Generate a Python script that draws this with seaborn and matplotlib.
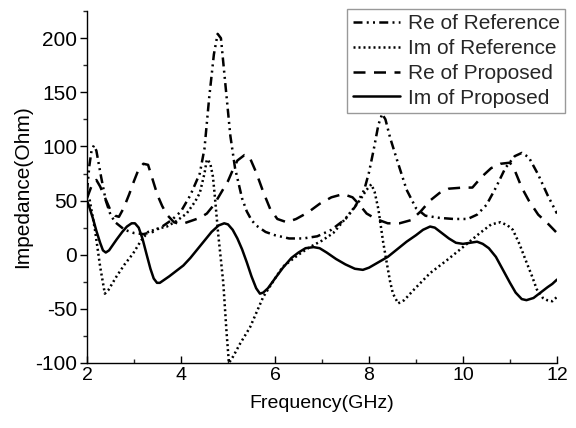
import matplotlib
matplotlib.use("Agg")
import matplotlib.pyplot as plt
from matplotlib.ticker import MultipleLocator
import seaborn as sns
import pandas as pd

# Series names (legend order)
series_names = ["Re of Reference", "Im of Reference", "Re of Proposed", "Im of Proposed"]

# Re of Reference
re_ref_freq = [2.0, 2.05, 2.1, 2.15, 2.2, 2.3, 2.4, 2.5, 2.6, 2.8, 3.0, 3.2, 3.4, 3.6, 3.8,
               4.0, 4.2, 4.4, 4.5, 4.6, 4.7, 4.78, 4.85, 4.95, 5.05, 5.15, 5.3, 5.4, 5.5,
               5.6, 5.8, 6.0, 6.3, 6.6, 6.9, 7.2, 7.5, 7.7, 7.9, 8.0, 8.1, 8.2, 8.28, 8.35,
               8.45, 8.6, 8.8, 9.0, 9.2, 9.5, 9.8, 10.1, 10.3, 10.5, 10.7, 10.9, 11.1, 11.25,
               11.4, 11.6, 11.8, 12.0]
re_ref_val = [58, 82, 97, 101, 96, 72, 50, 37, 30, 23, 20, 19, 21, 26, 32,
              40, 55, 75, 98, 145, 185, 204, 200, 155, 110, 80, 52, 40, 32,
              27, 21, 18, 15, 15, 17, 23, 33, 44, 60, 76, 97, 120, 130, 125,
              108, 87, 60, 43, 36, 34, 33, 33, 37, 46, 62, 80, 91, 94,
              90, 74, 55, 38]

# Im of Reference
im_ref_freq = [2.0, 2.06, 2.17, 2.28, 2.38, 2.45, 2.63, 2.8, 2.98, 3.15, 3.3, 3.5, 3.7, 3.9,
               4.12, 4.3, 4.4, 4.5, 4.55, 4.62, 4.68, 4.72, 4.79, 4.9, 4.97, 5.02, 5.11,
               5.26, 5.47, 5.75, 6.0, 6.17, 6.5, 6.74, 7.0, 7.24, 7.53, 7.8, 7.95, 8.05,
               8.12, 8.2, 8.3, 8.38, 8.45, 8.51, 8.62, 8.75, 8.94, 9.3, 9.66, 10.0, 10.36,
               10.6, 10.8, 10.95, 11.06, 11.2, 11.36, 11.47, 11.57, 11.7, 11.79, 11.9, 12.0]
im_ref_val = [55, 50, 23, -11, -36, -33, -20, -9, 1, 13, 21, 24, 26, 31,
              38, 49, 57, 75, 88, 85, 72, 54, 20, -26, -72, -100, -94,
              -82, -67, -39, -22, -11, 0, 7, 13, 20, 35, 50, 60, 65,
              58, 42, 12, -8, -25, -36, -45, -42, -33, -17, -5, 7, 20,
              28, 30, 27, 23, 10, -8, -20, -32, -40, -42, -43, -39]

# Re of Proposed
re_prop_freq = [2.0, 2.05, 2.12, 2.2, 2.28, 2.38, 2.5, 2.6, 2.68, 2.78, 2.9, 3.0, 3.1, 3.2,
                3.3, 3.4, 3.5, 3.6, 3.7, 3.85, 4.0, 4.2, 4.4, 4.55, 4.7, 4.85, 5.0, 5.1,
                5.2, 5.35, 5.45, 5.6, 5.75, 5.9, 6.05, 6.25, 6.45, 6.7, 6.95, 7.2, 7.45,
                7.65, 7.8, 7.95, 8.15, 8.4, 8.65, 8.9, 9.1, 9.3, 9.5, 9.7, 10.0, 10.2,
                10.4, 10.6, 10.8, 11.0, 11.1, 11.25, 11.4, 11.6, 11.8, 12.0]
re_prop_val = [52, 58, 66, 69, 63, 53, 41, 36, 35, 43, 56, 68, 79, 84,
               83, 69, 55, 45, 37, 30, 28, 31, 34, 38, 46, 57, 68, 78,
               87, 92, 91, 76, 58, 42, 33, 30, 33, 39, 47, 53, 56,
               53, 46, 38, 33, 29, 29, 32, 40, 50, 57, 61, 62, 62,
               72, 80, 84, 85, 78, 62, 50, 37, 29, 20]

# Im of Proposed
im_prop_freq = [2.0, 2.05, 2.13, 2.2, 2.28, 2.34, 2.4, 2.47, 2.55, 2.63, 2.75, 2.85, 2.95,
                3.02, 3.1, 3.18, 3.27, 3.35, 3.42, 3.49, 3.55, 3.6, 3.75, 3.9, 4.05, 4.2,
                4.35, 4.5, 4.65, 4.8, 4.92, 5.0, 5.1, 5.2, 5.3, 5.4, 5.5, 5.6, 5.68, 5.75,
                5.85, 6.0, 6.17, 6.35, 6.5, 6.65, 6.82, 6.95, 7.1, 7.3, 7.5, 7.7, 7.87,
                8.0, 8.2, 8.4, 8.6, 8.8, 9.0, 9.15, 9.3, 9.4, 9.55, 9.7, 9.85, 10.0,
                10.15, 10.3, 10.42, 10.55, 10.7, 10.85, 11.0, 11.12, 11.25, 11.35, 11.5,
                11.65, 11.8, 11.9, 12.0]
im_prop_val = [50, 44, 33, 22, 11, 4, 2, 4, 9, 14, 21, 26, 29,
               29, 25, 15, 0, -13, -22, -26, -26, -24.5, -20, -15, -10, -3,
               5, 13, 21, 27, 29, 28, 23, 15, 5, -7, -20, -31, -36, -35,
               -31, -22, -12, -3, 2, 6, 7, 6, 2, -4, -9, -13, -14,
               -12, -7, -2, 5, 12, 18, 23, 26, 25, 20, 15, 11, 10,
               11, 12, 10, 6, -2, -14, -26, -35, -41, -42, -40,
               -35, -30, -27, -23]

freqs = [re_ref_freq, im_ref_freq, re_prop_freq, im_prop_freq]
vals = [re_ref_val, im_ref_val, re_prop_val, im_prop_val]

frames = [pd.DataFrame({"Frequency": f, "Impedance": v, "Series": name})
          for name, f, v in zip(series_names, freqs, vals)]
df = pd.concat(frames, ignore_index=True)

sns.set_theme(style="white")
plt.rcParams["font.family"] = ["Liberation Sans", "DejaVu Sans"]
plt.rcParams["axes.unicode_minus"] = False

fig = plt.figure(figsize=(5.76, 4.28), dpi=100)
ax = fig.add_axes([0.151, 0.152, 0.816, 0.822])

dash_map = {
    "Re of Reference": (3.6, 1.7, 0.8, 1.7, 0.8, 1.7),
    "Im of Reference": (0.8, 1.2),
    "Re of Proposed": (4.8, 3.4),
    "Im of Proposed": "",
}
palette = {name: "black" for name in series_names}

sns.lineplot(data=df, x="Frequency", y="Impedance", hue="Series", style="Series",
             hue_order=series_names, style_order=series_names,
             palette=palette, dashes=dash_map, linewidth=1.8, sort=False,
             estimator=None, ax=ax)

ax.set_xlim(2, 12)
ax.set_ylim(-100, 225)
ax.xaxis.set_major_locator(MultipleLocator(2))
ax.xaxis.set_minor_locator(MultipleLocator(1))
ax.yaxis.set_major_locator(MultipleLocator(50))
ax.yaxis.set_minor_locator(MultipleLocator(25))

for side in ["top", "right"]:
    ax.spines[side].set_visible(False)
for side in ["left", "bottom"]:
    ax.spines[side].set_color("black")
    ax.spines[side].set_linewidth(1.0)

ax.tick_params(axis="x", which="major", direction="in", length=5, width=1,
               labelsize=14, colors="black", bottom=True, pad=3)
ax.tick_params(axis="x", which="minor", direction="in", length=3, width=1, bottom=True)
ax.tick_params(axis="y", which="major", direction="out", length=5, width=1,
               labelsize=15, colors="black", left=True, pad=2)
ax.tick_params(axis="y", which="minor", direction="out", length=3, width=1, left=True)

ax.set_xlabel("Frequency(GHz)", fontsize=14, color="black", labelpad=8)
ax.set_ylabel("Impedance(Ohm)", fontsize=15, color="black", labelpad=2)

handles, labels = ax.get_legend_handles_labels()
leg = ax.legend(handles, labels, loc="upper right", bbox_to_anchor=(1.017, 1.006),
                fontsize=15, frameon=True, fancybox=False, framealpha=1,
                edgecolor="#999999", handlelength=2.3, handletextpad=0.35,
                borderpad=0.25, labelspacing=0.28, borderaxespad=0.0)
leg.get_frame().set_linewidth(1.0)

fig.savefig("out.png", dpi=100)
